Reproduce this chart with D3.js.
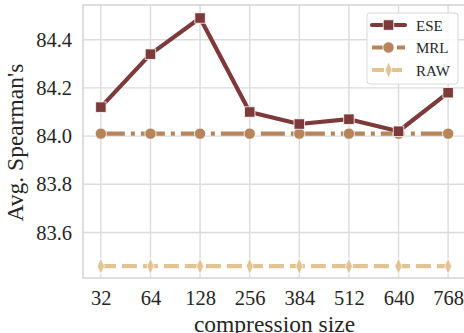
<!DOCTYPE html>
<html><head><meta charset="utf-8">
<script src="https://cdn.jsdelivr.net/npm/d3@7"></script>
<style>body{margin:0;background:#fff}svg{display:block}</style>
</head><body>
<script>
// Average Spearman's correlation by compression size
const categories = ["32", "64", "128", "256", "384", "512", "640", "768"];
const eseValues = [84.12, 84.34, 84.49, 84.10, 84.05, 84.07, 84.02, 84.18];
const mrlValues = [84.01, 84.01, 84.01, 84.01, 84.01, 84.01, 84.01, 84.01];
const rawValues = [83.46, 83.46, 83.46, 83.46, 83.46, 83.46, 83.46, 83.46];
const yTicks = [83.6, 83.8, 84.0, 84.2, 84.4];
const seriesNames = ["ESE", "MRL", "RAW"];

const W = 464, H = 333;
const plot = {left: 83, top: 5, right: 466, bottom: 278};

const svg = d3.select("body").append("svg").attr("width", W).attr("height", H);

const x = d3.scalePoint().domain(categories)
  .range([plot.left, plot.right]).padding(0.36);
const y = d3.scaleLinear().domain([83.411, 84.544]).range([plot.bottom, plot.top]);

const font = "'Liberation Serif', 'Times New Roman', serif";
const textColor = "#262626";
const gridColor = "#dcdcdc";

// grid
const g = svg.append("g");
g.selectAll("line.vg").data(categories).join("line")
  .attr("x1", d => x(d)).attr("x2", d => x(d))
  .attr("y1", plot.top).attr("y2", plot.bottom)
  .attr("stroke", gridColor).attr("stroke-width", 1.4);
g.selectAll("line.hg").data(yTicks).join("line")
  .attr("x1", plot.left).attr("x2", plot.right)
  .attr("y1", d => y(d)).attr("y2", d => y(d))
  .attr("stroke", gridColor).attr("stroke-width", 1.4);

// frame
svg.append("rect").attr("x", plot.left).attr("y", plot.top)
  .attr("width", plot.right - plot.left).attr("height", plot.bottom - plot.top)
  .attr("fill", "none").attr("stroke", "#d0d0d0").attr("stroke-width", 1.4);

// axes
const yAxis = d3.axisLeft(y).tickValues(yTicks).tickFormat(d3.format(".1f")).tickSize(0).tickPadding(11);
svg.append("g").attr("transform", `translate(${plot.left},0)`).call(yAxis)
  .call(a => a.select(".domain").remove())
  .selectAll("text").style("font-family", font).style("font-size", "20.5px").style("fill", textColor);

const xAxis = d3.axisBottom(x).tickSize(0).tickPadding(12.5);
svg.append("g").attr("transform", `translate(0,${plot.bottom})`).call(xAxis)
  .call(a => a.select(".domain").remove())
  .selectAll("text").style("font-family", font).style("font-size", "20.5px").style("fill", textColor);

svg.append("text").attr("x", (plot.left + plot.right) / 2).attr("y", 331.5)
  .attr("text-anchor", "middle").style("font-family", font).style("font-size", "23.5px")
  .style("fill", textColor).text("compression size");
svg.append("text").attr("transform", `translate(23,${(plot.top + plot.bottom) / 2 + 1}) rotate(-90)`)
  .attr("text-anchor", "middle").style("font-family", font).style("font-size", "23.5px")
  .style("fill", textColor).text("Avg. Spearman's");

// series
const series = [
  {name: seriesNames[0], values: eseValues, color: "#7e3a3a", dash: null, marker: "square"},
  {name: seriesNames[1], values: mrlValues, color: "#b6855c", dash: "24,6,4,6", marker: "circle"},
  {name: seriesNames[2], values: rawValues, color: "#e3c394", dash: "15,6", marker: "diamond"}
];

const symbols = {
  square: d3.symbol().type(d3.symbolSquare).size(110),
  circle: d3.symbol().type(d3.symbolCircle).size(100),
  diamond: d3.symbol().type(d3.symbolDiamond).size(75)
};

const line = d3.line().x((d, i) => x(categories[i])).y(d => y(d));

// draw bottom series first so ESE sits on top
[...series].reverse().forEach(s => {
  svg.append("path").datum(s.values).attr("d", line)
    .attr("fill", "none").attr("stroke", s.color).attr("stroke-width", 4.2)
    .attr("stroke-linecap", s.dash ? "butt" : "round").attr("stroke-linejoin", "round")
    .attr("stroke-dasharray", s.dash);
  svg.selectAll(null).data(s.values).join("path")
    .attr("d", symbols[s.marker])
    .attr("transform", (d, i) => `translate(${x(categories[i])},${y(d)})` + (s.marker === "diamond" ? " scale(0.75,1)" : ""))
    .attr("fill", s.color).attr("stroke", "#fff").attr("stroke-width", 0.8);
});

// legend
const lg = svg.append("g");
lg.append("rect").attr("x", 367).attr("y", 13).attr("width", 91).attr("height", 71)
  .attr("rx", 3).attr("fill", "rgba(255,255,255,0.85)").attr("stroke", "#d8d8d8").attr("stroke-width", 1);
series.forEach((s, i) => {
  const cy = 25 + i * 22.5;
  lg.append("line").attr("x1", 372).attr("x2", 405).attr("y1", cy).attr("y2", cy)
    .attr("stroke", s.color).attr("stroke-width", 4.2)
    .attr("stroke-linecap", s.dash ? "butt" : "round")
    .attr("stroke-dasharray", s.dash ? (i === 1 ? "11,6,2,6" : "12,6") : null);
  lg.append("path").attr("d", symbols[s.marker])
    .attr("transform", `translate(388.5,${cy})` + (s.marker === "diamond" ? " scale(0.75,1)" : ""))
    .attr("fill", s.color).attr("stroke", "#fff").attr("stroke-width", 0.8);
  lg.append("text").attr("x", 416).attr("y", cy + 5.5).style("font-family", font)
    .style("font-size", "15px").style("fill", textColor).text(s.name);
});
</script>
</body></html>
